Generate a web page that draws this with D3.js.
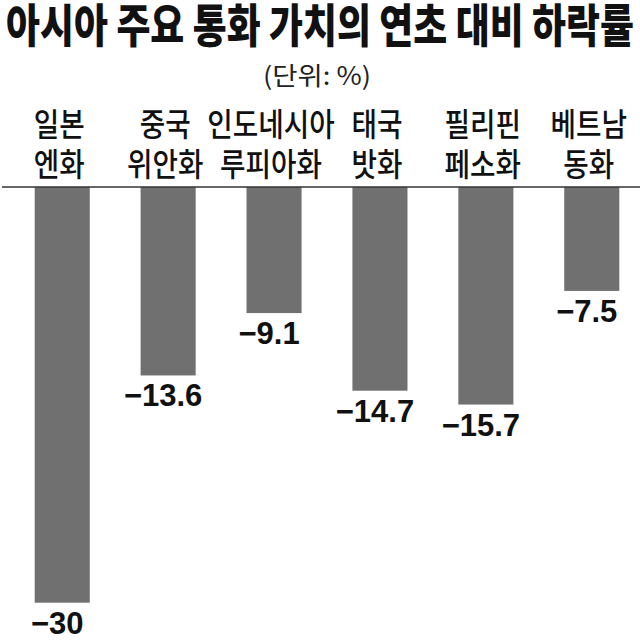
<!DOCTYPE html>
<html>
<head>
<meta charset="utf-8">
<script src="https://cdn.jsdelivr.net/npm/d3@7"></script>
<style>
  html, body { margin: 0; padding: 0; background: #fff; }
  svg { display: block; }
</style>
</head>
<body>
<svg id="chart" width="640" height="643"></svg>
<script>
const titleText = "아시아 주요 통화 가치의 연초 대비 하락률";
const unitText = "(단위: %)";
const categories = ["일본 엔화", "중국 위안화", "인도네시아 루피아화", "태국 밧화", "필리핀 페소화", "베트남 동화"];
const labelLine1 = ["일본", "중국", "인도네시아", "태국", "필리핀", "베트남"];
const labelLine2 = ["엔화", "위안화", "루피아화", "밧화", "페소화", "동화"];
const values = [-30, -13.6, -9.1, -14.7, -15.7, -7.5];

const svg = d3.select("#chart");
const korFont = "'Noto Sans CJK KR', 'Noto Sans', sans-serif";
const numFont = "'Liberation Sans Narrow', 'Liberation Sans', Arial, sans-serif";

const x = d3.scaleBand().domain(categories).range([34.7, 619.3]).paddingInner(0.48).paddingOuter(0);
const y = d3.scaleLinear().domain([0, -30]).range([187, 602.7]);

// helper: horizontally condense a text to a target width via transform
function fitText(sel, cx, baseY, targetW) {
  const w = sel.node().getComputedTextLength();
  const k = w > 0 ? targetW / w : 1;
  sel.attr("text-anchor", "middle").attr("x", 0).attr("y", 0)
     .attr("transform", `translate(${cx},${baseY}) scale(${k},1)`);
}

// title
const title = svg.append("text")
  .attr("font-family", korFont).attr("font-weight", 900).attr("font-size", 46)
  .attr("fill", "#111")
  .text(titleText);
fitText(title, 320, 42, 628);

const unit = svg.append("text")
  .attr("font-family", korFont).attr("font-weight", 400).attr("font-size", 25)
  .attr("fill", "#222")
  .text(unitText);
fitText(unit, 317, 85, 108);

// category labels
const lab = svg.append("g").attr("font-family", korFont).attr("font-size", 32)
  .attr("font-weight", 500).attr("fill", "#111");
categories.forEach((c, i) => {
  const cx = x(c) + x.bandwidth() / 2 - 3;
  const t1 = lab.append("text").text(labelLine1[i]);
  fitText(t1, cx, 136, labelLine1[i].length * 25.5);
  const t2 = lab.append("text").text(labelLine2[i]);
  fitText(t2, cx, 176, labelLine2[i].length * 25.5);
});

// bars
svg.append("g").selectAll("rect").data(values).join("rect")
  .attr("x", (d, i) => x(categories[i]))
  .attr("y", y(0))
  .attr("width", x.bandwidth())
  .attr("height", d => y(d) - y(0))
  .attr("fill", "#707070");

// baseline
svg.append("line").attr("x1", 2).attr("x2", 640).attr("y1", y(0)).attr("y2", y(0))
  .attr("stroke", "#333").attr("stroke-width", 1.5);

// value labels
const fmt = d => d3.format(Number.isInteger(d) ? "d" : ".1f")(d);
svg.append("g").selectAll("text").data(values).join("text")
  .attr("x", (d, i) => x(categories[i]) + x.bandwidth() / 2 - 5)
  .attr("y", d => y(d) + 31)
  .attr("text-anchor", "middle")
  .attr("font-family", numFont).attr("font-weight", 700).attr("font-size", 31)
  .attr("fill", "#111")
  .text(fmt);
</script>
</body>
</html>
